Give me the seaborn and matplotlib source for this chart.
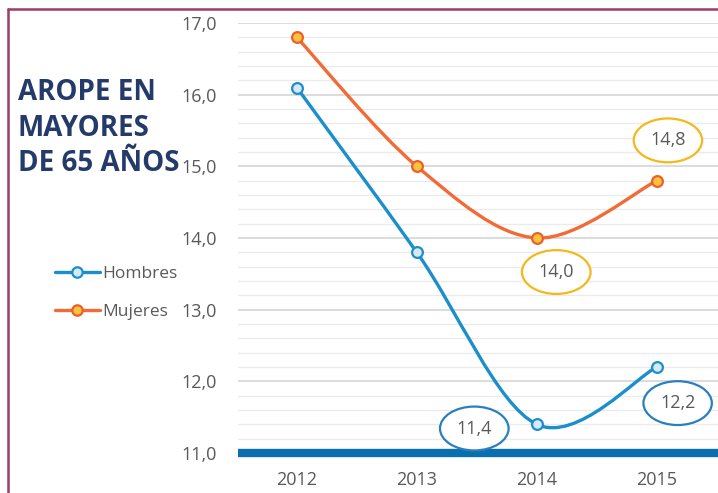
import matplotlib.pyplot as plt
import numpy as np
import pandas as pd
import seaborn as sns
from matplotlib.lines import Line2D
from matplotlib.patches import PathPatch
from matplotlib.path import Path

years = [2012, 2013, 2014, 2015]
hombres = [16.1, 13.8, 11.4, 12.2]
mujeres = [16.8, 15.0, 14.0, 14.8]
y_ticks = [11.0, 12.0, 13.0, 14.0, 15.0, 16.0, 17.0]
title = "AROPE EN\nMAYORES\nDE 65 AÑOS"

# labelled points: (series, index, offset in points)
callouts = [
    ("Mujeres", 3, (8, 29)),
    ("Mujeres", 2, (14, -24.5)),
    ("Hombres", 2, (-45, -3)),
    ("Hombres", 3, (15, -26)),
]

styles = {
    "Hombres": {"line": "#1b8fcb", "face": "#d8e8f5", "edge": "#1b8fcb", "ring": "#2a7fbf"},
    "Mujeres": {"line": "#f26a35", "face": "#f9c33d", "edge": "#ec5f2a", "ring": "#f5b81a"},
}

sns.set_theme(style="white")
plt.rcParams["font.family"] = ["Open Sans", "DejaVu Sans"]

df = pd.DataFrame(
    {
        "year": years * 2,
        "value": hombres + mujeres,
        "serie": ["Hombres"] * 4 + ["Mujeres"] * 4,
    }
)


def smooth_path(x, y):
    # Excel-like smoothed line: cubic bezier segments with catmull-rom tangents
    pts = np.column_stack([x, y]).astype(float)
    n = len(pts)
    verts = [pts[0]]
    codes = [Path.MOVETO]
    for i in range(n - 1):
        p_prev = pts[max(i - 1, 0)]
        p0, p1 = pts[i], pts[i + 1]
        p_next = pts[min(i + 2, n - 1)]
        c1 = p0 + (p1 - p_prev) / 6
        c2 = p1 - (p_next - p0) / 6
        verts += [c1, c2, p1]
        codes += [Path.CURVE4] * 3
    return Path(verts, codes)


fig = plt.figure(figsize=(7.18, 4.93), dpi=100)
ax = fig.add_axes([238 / 718, 1 - 453 / 493, 480 / 718, 430 / 493])

ax.set_xlim(2011.51, 2015.51)
ax.set_ylim(11, 17)

# gridlines
for v in np.arange(11.2, 17.01, 0.2):
    major = abs(v - round(v)) < 1e-6
    ax.axhline(v, color="#d6d6d6" if major else "#ebebeb", lw=1.2 if major else 1.0, zorder=0)
ax.axhline(11, color="#0a6fae", lw=6, zorder=2, clip_on=False, solid_capstyle="butt")

for name, vals in (("Hombres", hombres), ("Mujeres", mujeres)):
    st = styles[name]
    ax.add_patch(
        PathPatch(smooth_path(years, vals), facecolor="none", edgecolor=st["line"],
                  lw=2.4, zorder=3, capstyle="round")
    )
    sub = df[df["serie"] == name]
    sns.scatterplot(
        data=sub, x="year", y="value", ax=ax, s=60, color=st["face"],
        edgecolor=st["edge"], linewidth=1.6, zorder=4, legend=False, clip_on=False,
    )

series_vals = {"Hombres": hombres, "Mujeres": mujeres}
for name, idx, off in callouts:
    v = series_vals[name][idx]
    ax.annotate(
        f"{v:.1f}".replace(".", ","),
        xy=(years[idx], v), xytext=off, textcoords="offset points",
        ha="center", va="center", fontsize=13, color="#595959",
        bbox=dict(boxstyle="ellipse,pad=0.36", fc="white", ec=styles[name]["ring"], lw=1.6),
        zorder=5,
    )

ax.set_xticks(years)
ax.set_xticklabels([str(y) for y in years])
ax.set_yticks(y_ticks)
ax.set_yticklabels([f"{t:.1f}".replace(".", ",") for t in y_ticks])
ax.tick_params(axis="both", length=0, labelsize=13, labelcolor="#595959")
ax.tick_params(axis="y", pad=15)
ax.tick_params(axis="x", pad=13)
ax.set_xlabel("")
ax.set_ylabel("")
for sp in ax.spines.values():
    sp.set_visible(False)

fig.text(18 / 718, 1 - 78 / 493, title, ha="left", va="top", fontsize=20,
         fontweight="bold", color="#243a6a", linespacing=1.3)

handles = [
    Line2D([], [], color=styles[n]["line"], lw=2.4, marker="o", ms=7.5,
           mfc=styles[n]["face"], mec=styles[n]["edge"], mew=1.6)
    for n in ("Hombres", "Mujeres")
]
fig.legend(handles, ["Hombres", "Mujeres"], loc="upper left",
           bbox_to_anchor=(39 / 718, 1 - 250 / 493), frameon=False, fontsize=12.5,
           handlelength=2.6, handletextpad=0.15, labelspacing=1.25, labelcolor="#595959")

# frame border
fig.add_artist(Line2D([8 / 718, 8 / 718], [0, 1 - 9 / 493], color="#9b3d67", lw=1.8))
fig.add_artist(Line2D([8 / 718, 1], [1 - 9 / 493, 1 - 9 / 493], color="#9b3d67", lw=1.8))

fig.savefig("out.png", dpi=100)
